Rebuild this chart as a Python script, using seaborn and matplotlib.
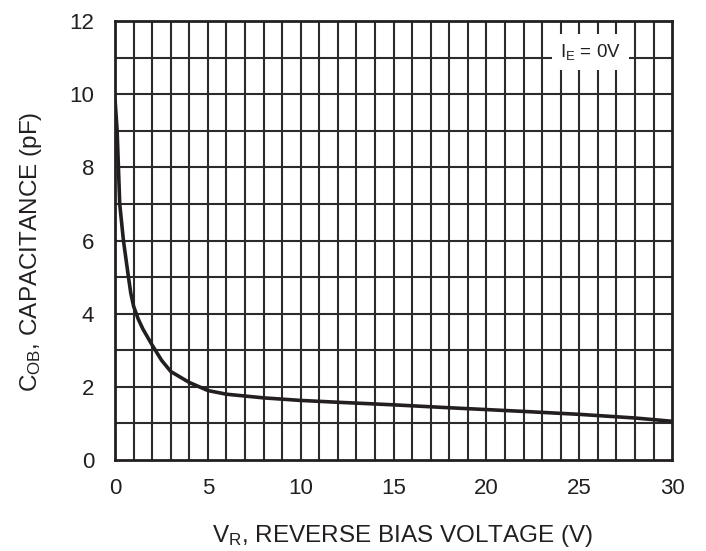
import numpy as np
import pandas as pd
import seaborn as sns
import matplotlib.pyplot as plt

# reverse bias voltage (V) and output capacitance (pF)
v_r = [0, 0.11, 0.18, 0.25, 0.45, 0.72, 0.85, 1.0, 1.25, 1.5, 2.0, 2.5, 3, 4, 5, 6, 7, 8,
       10, 12, 15, 18, 20, 22, 25, 28, 30]
c_ob = [9.84, 9.0, 8.0, 7.0, 6.0, 5.0, 4.55, 4.2, 3.85, 3.58, 3.14, 2.73, 2.42, 2.12, 1.90,
        1.80, 1.75, 1.70, 1.63, 1.58, 1.51, 1.43, 1.38, 1.33, 1.25, 1.15, 1.06]

x_ticks = [0, 5, 10, 15, 20, 25, 30]
y_ticks = [0, 2, 4, 6, 8, 10, 12]

df = pd.DataFrame({'VR': v_r, 'COB': c_ob})

sns.set_style('white')
plt.rcParams['font.family'] = ['Liberation Sans', 'DejaVu Sans']
plt.rcParams['mathtext.fontset'] = 'custom'
plt.rcParams['mathtext.rm'] = 'Liberation Sans'
plt.rcParams['mathtext.it'] = 'Liberation Sans'

fig = plt.figure(figsize=(7.06, 5.51), dpi=100)
ax = fig.add_axes([0.163, 0.165, 0.789, 0.797])

# 1 V by 1 pF grid
for v in range(1, 30):
    ax.axvline(v, color='#2b2b2b', lw=1.5, zorder=1)
for c in range(1, 12):
    ax.axhline(c, color='#2b2b2b', lw=1.5, zorder=1)

sns.lineplot(data=df, x='VR', y='COB', color='#231f20', lw=2.6, ax=ax, zorder=3)

ax.set_xlim(0, 30)
ax.set_ylim(0, 12)
ax.set_xticks(x_ticks)
ax.set_yticks(y_ticks)
ax.tick_params(length=0, labelsize=16, colors='#231f20')
ax.tick_params(axis='x', pad=13)
ax.tick_params(axis='y', pad=15)
for s in ax.spines.values():
    s.set_color('#231f20')
    s.set_linewidth(2)

ax.set_xlabel(r'V$_{\mathrm{R}}$, REVERSE BIAS VOLTAGE (V)', fontsize=17.5, color='#231f20',
              labelpad=17, x=0.517)
ax.set_ylabel(r'C$_{\mathrm{OB}}$, CAPACITANCE (pF)', fontsize=17.5, color='#231f20',
              labelpad=18, y=0.474)

ax.text(25.6, 11.15, r'I$_{\mathrm{E}}$ = 0V', fontsize=13.5, ha='center', va='center',
        color='#231f20', zorder=4,
        bbox=dict(facecolor='white', edgecolor='none', pad=6))

fig.savefig('out.png', dpi=100)
